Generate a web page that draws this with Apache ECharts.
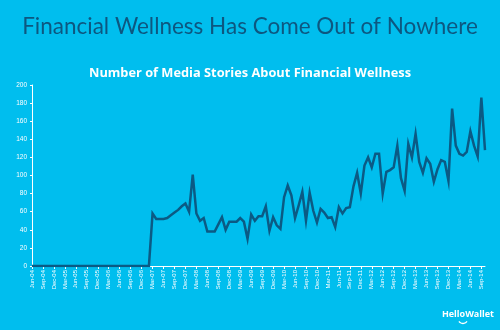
<!DOCTYPE html>
<html>
<head>
<meta charset="utf-8">
<script src="https://cdn.jsdelivr.net/npm/echarts@6/dist/echarts.min.js"></script>
<style>
  html, body { margin: 0; padding: 0; background: #00BEEE; }
  #chart { width: 500px; height: 330px; }
</style>
</head>
<body>
<div id="chart"></div>
<script>
// Monthly categories, Jun-04 through Oct-14
const monthNames = ['Jan','Feb','Mar','Apr','May','Jun','Jul','Aug','Sep','Oct','Nov','Dec'];
const startYear = 2004, startMonth = 5, monthCount = 125;
const categories = [];
for (let i = 0; i < monthCount; i++) {
  const m = (startMonth + i) % 12;
  const y = startYear + Math.floor((startMonth + i) / 12);
  categories.push(monthNames[m] + '-' + String(y % 100).padStart(2, '0'));
}

// Number of media stories per month
const stories = [
  0, 0, 0, 0, 0, 0, 0, 0, 0, 0, 0,
  0, 0, 0, 0, 0, 0, 0, 0, 0, 0, 0,
  0, 0, 0, 0, 0, 0, 0, 0, 0, 0, 0,
  58, 52, 52, 52, 53, 56, 59, 62, 66, 69,
  60, 101, 58, 50, 53, 38, 38, 38, 46, 54,
  40, 49, 49, 49, 53, 49, 30, 57, 50, 55,
  55, 66, 39, 54, 45, 41, 76, 89, 78, 53,
  67, 82, 50, 81, 61, 48, 63, 59, 53, 54,
  43, 65, 58, 64, 65, 88, 103, 80, 111, 120,
  109, 124, 124, 80, 104, 106, 109, 133, 97, 83,
  135, 120, 146, 115, 103, 119, 113, 93, 107, 117,
  115, 94, 174, 133, 124, 122, 126, 149, 133, 121,
  186, 128
];

const yTicks = { min: 0, max: 200, interval: 20 };

const chart = echarts.init(document.getElementById('chart'), null, { renderer: 'canvas' });
chart.setOption({
  backgroundColor: '#00BEEE',
  animation: false,
  title: [
    {
      text: 'Financial Wellness Has Come Out of Nowhere',
      left: 'center', top: 10,
      textStyle: { color: '#0D5780', fontFamily: 'Lato', fontWeight: 'normal', fontSize: 22.5 }
    },
    {
      text: 'Number of Media Stories About Financial Wellness',
      left: 'center', top: 62,
      textStyle: { color: '#ffffff', fontFamily: 'Open Sans', fontWeight: 'bold', fontSize: 12.8 }
    }
  ],
  grid: { left: 32, right: 15, top: 85, bottom: 64 },
  xAxis: {
    type: 'category',
    data: categories,
    boundaryGap: false,
    axisLine: { lineStyle: { color: '#ffffff', width: 1 } },
    axisTick: { interval: 2, length: 3, lineStyle: { color: '#ffffff' } },
    axisLabel: {
      interval: 2, rotate: 90, color: '#ffffff', fontSize: 6,
      fontFamily: 'Liberation Sans', margin: 4
    },
    splitLine: { show: false }
  },
  yAxis: {
    type: 'value',
    min: yTicks.min, max: yTicks.max, interval: yTicks.interval,
    axisLine: { show: true, lineStyle: { color: '#ffffff', width: 1 } },
    axisTick: { show: true, length: 2, lineStyle: { color: '#ffffff' } },
    axisLabel: { color: '#ffffff', fontSize: 6.5, fontFamily: 'Liberation Sans', margin: 5 },
    splitLine: { show: false }
  },
  series: [{
    type: 'line',
    data: stories,
    symbol: 'none',
    lineStyle: { color: '#0B5A84', width: 2.5, join: 'miter' }
  }],
  graphic: [
    {
      type: 'text', right: 6, top: 310,
      style: { text: 'HelloWallet', fill: '#ffffff', font: 'bold 9px "Open Sans"' }
    },
    {
      type: 'arc',
      shape: { cx: 463, cy: 318.5, r: 5, startAngle: Math.PI * 0.2, endAngle: Math.PI * 0.8 },
      style: { stroke: '#ffffff', lineWidth: 1.3, fill: null }
    }
  ]
});
</script>
</body>
</html>
